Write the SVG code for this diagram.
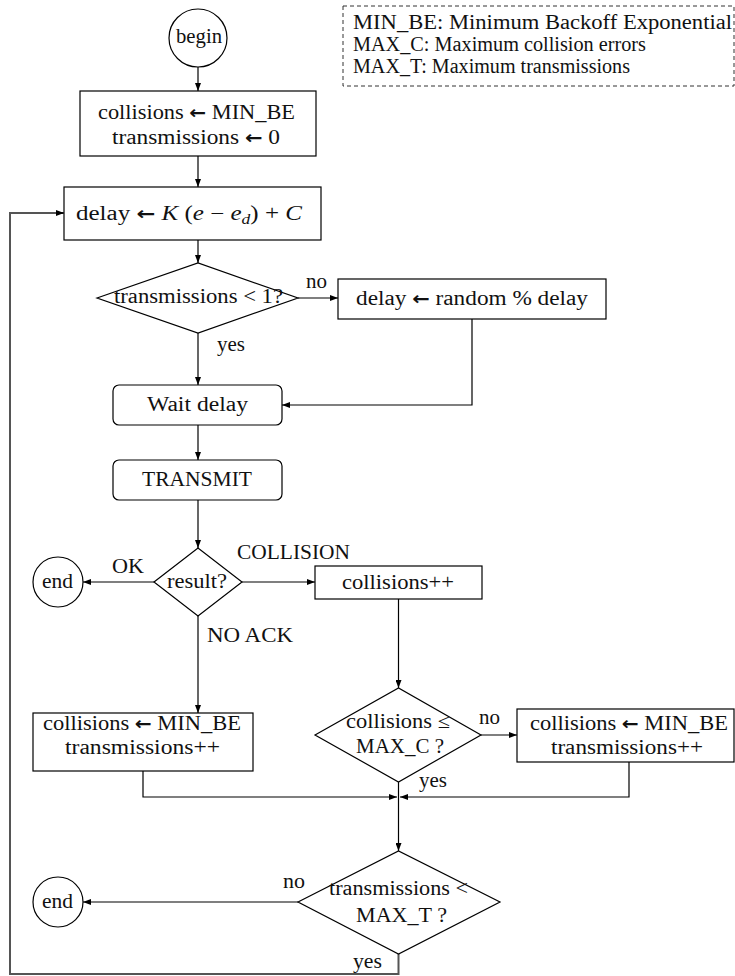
<svg xmlns="http://www.w3.org/2000/svg" width="735" height="976" viewBox="0 0 735 976">
<style>
.n{fill:#fff;stroke:#000;stroke-width:1.2}
.c{fill:none;stroke:#000;stroke-width:1.2}
.g{fill:none;stroke:#555;stroke-width:2}
text{font-family:"Liberation Serif","Times New Roman",serif;font-size:20px;fill:#111}
.m{font-style:italic}
.ar{font-family:"DejaVu Sans",sans-serif;font-weight:bold;font-size:18px}
</style>
<defs>
<marker id="a" markerWidth="8" markerHeight="6" refX="8" refY="3" orient="auto" markerUnits="userSpaceOnUse">
<path d="M0,0 L8,3 L0,6 z" fill="#000"/>
</marker>
</defs>
<rect width="735" height="976" fill="#fff"/>
<g id="legend">
<rect x="343" y="6" width="391" height="80" fill="none" stroke="#333" stroke-width="1" stroke-dasharray="4,3"/>
<text x="353" y="29" textLength="379" lengthAdjust="spacingAndGlyphs">MIN_BE: Minimum Backoff Exponential</text>
<text x="353" y="51" textLength="293" lengthAdjust="spacingAndGlyphs">MAX_C: Maximum collision errors</text>
<text x="353" y="73" textLength="277" lengthAdjust="spacingAndGlyphs">MAX_T: Maximum transmissions</text>
</g>
<g id="connectors">
<path class="c" d="M198,67 V91" marker-end="url(#a)"/>
<path class="c" d="M198,156 V187" marker-end="url(#a)"/>
<path class="c" d="M198,240 V263" marker-end="url(#a)"/>
<path class="c" d="M298,298 H338" marker-end="url(#a)"/>
<path class="c" d="M472,319 V405 H282" marker-end="url(#a)"/>
<path class="c" d="M198,333 V385" marker-end="url(#a)"/>
<path class="c" d="M198,425 V460" marker-end="url(#a)"/>
<path class="c" d="M198,500 V548" marker-end="url(#a)"/>
<path class="c" d="M154,582 H83" marker-end="url(#a)"/>
<path class="c" d="M242,582 H315" marker-end="url(#a)"/>
<path class="c" d="M198,616 V713" marker-end="url(#a)"/>
<path class="c" d="M398.5,599 V688" marker-end="url(#a)"/>
<path class="c" d="M481,735 H517" marker-end="url(#a)"/>
<path class="c" d="M143,771 V797 H397" marker-end="url(#a)"/>
<path class="c" d="M629,762 V797 H400" marker-end="url(#a)"/>
<path class="c" d="M398.5,782 V851" marker-end="url(#a)"/>
<path class="c" d="M298,902 H83" stroke="#333" marker-end="url(#a)"/>
<path class="g" d="M398.5,954 V974 H10 V213 H63"/>
<path class="c" d="M56,213 H64" marker-end="url(#a)"/>
<text x="306" y="288" textLength="21" lengthAdjust="spacingAndGlyphs">no</text>
<text x="217" y="351" textLength="28" lengthAdjust="spacingAndGlyphs">yes</text>
<text x="112" y="573" textLength="32" lengthAdjust="spacingAndGlyphs">OK</text>
<text x="237" y="559" textLength="113" lengthAdjust="spacingAndGlyphs">COLLISION</text>
<text x="207" y="642" textLength="86" lengthAdjust="spacingAndGlyphs">NO ACK</text>
<text x="479" y="724" textLength="21" lengthAdjust="spacingAndGlyphs">no</text>
<text x="419" y="787" textLength="28" lengthAdjust="spacingAndGlyphs">yes</text>
<text x="283" y="888" textLength="22" lengthAdjust="spacingAndGlyphs">no</text>
<text x="353" y="968" textLength="29" lengthAdjust="spacingAndGlyphs">yes</text>
</g>
<g id="begin">
<circle class="n" cx="198" cy="38" r="29"/>
<text x="176" y="43" textLength="46" lengthAdjust="spacingAndGlyphs">begin</text>
</g>
<g id="init">
<rect class="n" x="80" y="91" width="236" height="65"/>
<text x="98" y="119" textLength="197" lengthAdjust="spacingAndGlyphs">collisions <tspan class="ar">←</tspan> MIN_BE</text>
<text x="112" y="144" textLength="168" lengthAdjust="spacingAndGlyphs">transmissions <tspan class="ar">←</tspan> 0</text>
</g>
<g id="delay">
<rect class="n" x="64" y="187" width="257" height="53"/>
<text x="76" y="220" textLength="226" lengthAdjust="spacingAndGlyphs">delay <tspan class="ar">←</tspan> <tspan class="m">K</tspan> (<tspan class="m">e</tspan> − <tspan class="m">e</tspan><tspan class="m" font-size="14" dy="4">d</tspan><tspan dy="-4">) + </tspan><tspan class="m">C</tspan></text>
</g>
<g id="check1">
<polygon class="n" points="97,298 198,263 298,298 198,333"/>
<text x="114" y="303" textLength="169" lengthAdjust="spacingAndGlyphs">transmissions &lt; 1?</text>
</g>
<g id="random">
<rect class="n" x="338" y="279" width="268" height="40"/>
<text x="356" y="305" textLength="232" lengthAdjust="spacingAndGlyphs">delay <tspan class="ar">←</tspan> random % delay</text>
</g>
<g id="wait">
<rect class="n" x="113" y="385" width="169" height="40" rx="6"/>
<text x="147" y="411" textLength="101" lengthAdjust="spacingAndGlyphs">Wait delay</text>
</g>
<g id="transmit">
<rect class="n" x="113" y="460" width="169" height="40" rx="6"/>
<text x="142" y="486" textLength="110" lengthAdjust="spacingAndGlyphs">TRANSMIT</text>
</g>
<g id="result">
<polygon class="n" points="154,582 198,548 242,582 198,616"/>
<text x="167" y="588" textLength="60" lengthAdjust="spacingAndGlyphs">result?</text>
</g>
<g id="end1">
<circle class="n" cx="58" cy="582" r="25"/>
<text x="42" y="588" textLength="31" lengthAdjust="spacingAndGlyphs">end</text>
</g>
<g id="collinc">
<rect class="n" x="315" y="566" width="167" height="33"/>
<text x="342" y="589" textLength="112" lengthAdjust="spacingAndGlyphs">collisions++</text>
</g>
<g id="noack">
<rect class="n" x="33" y="713" width="220" height="58"/>
<text x="43" y="730" textLength="198" lengthAdjust="spacingAndGlyphs">collisions <tspan class="ar">←</tspan> MIN_BE</text>
<text x="65" y="754" textLength="155" lengthAdjust="spacingAndGlyphs">transmissions++</text>
</g>
<g id="check2">
<polygon class="n" points="315,735 398.5,688 481,735 398.5,782"/>
<text x="346" y="728" textLength="104" lengthAdjust="spacingAndGlyphs">collisions ≤</text>
<text x="356" y="753" textLength="88" lengthAdjust="spacingAndGlyphs">MAX_C ?</text>
</g>
<g id="reset">
<rect class="n" x="517" y="709" width="217" height="53"/>
<text x="530" y="730" textLength="198" lengthAdjust="spacingAndGlyphs">collisions <tspan class="ar">←</tspan> MIN_BE</text>
<text x="551" y="754" textLength="152" lengthAdjust="spacingAndGlyphs">transmissions++</text>
</g>
<g id="check3">
<polygon class="n" points="298,902 398.5,851 500,902 398.5,954"/>
<text x="329" y="895" textLength="139" lengthAdjust="spacingAndGlyphs">transmissions &lt;</text>
<text x="356" y="922" textLength="91" lengthAdjust="spacingAndGlyphs">MAX_T ?</text>
</g>
<g id="end2">
<circle class="n" cx="58" cy="902" r="25"/>
<text x="42" y="908" textLength="31" lengthAdjust="spacingAndGlyphs">end</text>
</g>
</svg>
